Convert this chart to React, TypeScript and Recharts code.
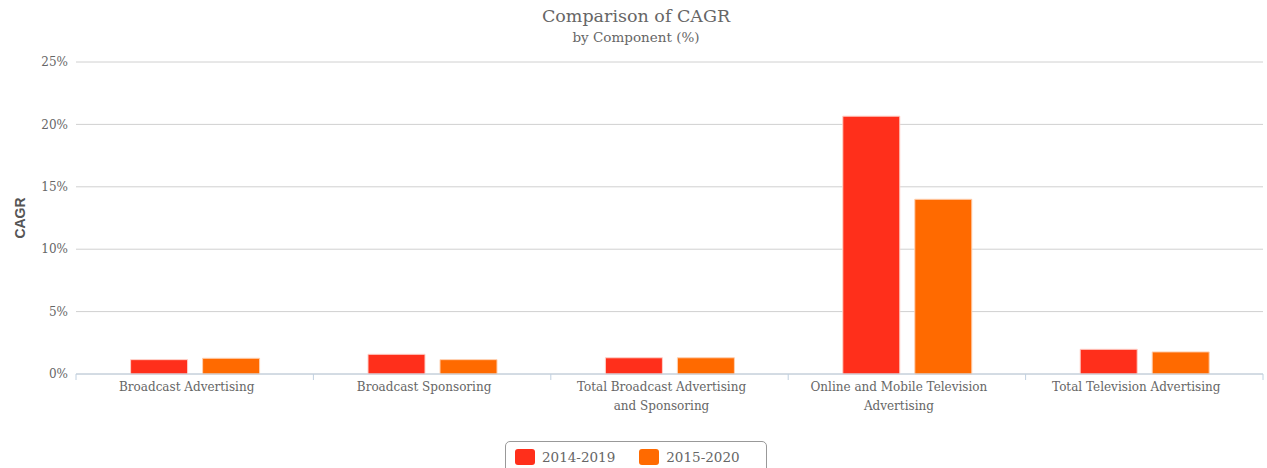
import { BarChart, Bar, XAxis, YAxis, CartesianGrid, Legend, Label } from "recharts"

const categories = [
  "Broadcast Advertising",
  "Broadcast Sponsoring",
  "Total Broadcast Advertising and Sponsoring",
  "Online and Mobile Television Advertising",
  "Total Television Advertising",
]
const tickLines = [
  ["Broadcast Advertising"],
  ["Broadcast Sponsoring"],
  ["Total Broadcast Advertising", "and Sponsoring"],
  ["Online and Mobile Television", "Advertising"],
  ["Total Television Advertising"],
]
const cagr2014 = [1.15, 1.58, 1.3, 20.66, 1.98]
const cagr2015 = [1.26, 1.15, 1.3, 14.0, 1.77]
const yTicks = [0, 5, 10, 15, 20, 25]

const RED = "#ff2f1b"
const ORANGE = "#ff6a00"
const SERIF = "'DejaVu Serif', serif"
const AXIS_BLUE = "#c0d0e0"

const data = categories.map((name, i) => ({
  name,
  a: cagr2014[i],
  b: cagr2015[i],
}))

// category band width, used only to put the tick marks between categories
const BAND = (1267 - 76 - 4) / categories.length

function CategoryTick({ x, y, index }: { x?: number; y?: number; index?: number }) {
  const i = index ?? 0
  const cx = x ?? 0
  const cy = y ?? 0
  const lines = tickLines[i] ?? []
  const axisY = cy - 8
  const tx = cx - 8
  return (
    <g>
      <line x1={cx - BAND / 2} x2={cx - BAND / 2} y1={axisY} y2={axisY + 6} stroke={AXIS_BLUE} />
      {i === categories.length - 1 && (
        <line x1={cx + BAND / 2} x2={cx + BAND / 2} y1={axisY} y2={axisY + 6} stroke={AXIS_BLUE} />
      )}
      <text x={tx} y={cy} textAnchor="middle" fill="#666" fontSize={12} fontFamily={SERIF}>
        {lines.map((l, k) => (
          <tspan key={k} x={tx} dy={k === 0 ? "0.71em" : 19}>
            {l}
          </tspan>
        ))}
      </text>
    </g>
  )
}

function LegendBox() {
  const items = [
    { label: "2014-2019", color: RED },
    { label: "2015-2020", color: ORANGE },
  ]
  return (
    <div
      style={{
        border: "1px solid #999",
        borderRadius: 5,
        height: 34,
        width: 262,
        boxSizing: "border-box",
        display: "flex",
        alignItems: "flex-start",
        paddingTop: 7,
        paddingLeft: 9,
        fontFamily: SERIF,
        fontSize: 13.5,
        color: "#666",
      }}
    >
      {items.map((it) => (
        <div key={it.label} style={{ display: "flex", alignItems: "center", marginRight: 24 }}>
          <span
            style={{
              display: "inline-block",
              width: 20,
              height: 16,
              borderRadius: 3,
              background: it.color,
              marginRight: 7,
            }}
          />
          <span>{it.label}</span>
        </div>
      ))}
    </div>
  )
}

export default function App() {
  return (
    <div style={{ position: "absolute", left: 0, top: 0, width: 1267, height: 468, overflow: "hidden", background: "#fff" }}>
      <div style={{ position: "absolute", left: 0, top: 5, width: 1272, textAlign: "center", fontFamily: SERIF, color: "#666" }}>
        <div style={{ fontSize: 17.5, lineHeight: "22px" }}>Comparison of CAGR</div>
        <div style={{ fontSize: 13.5, lineHeight: "18px", marginTop: 1 }}>by Component (%)</div>
      </div>
      <BarChart
        width={1267}
        height={468}
        data={data}
        margin={{ top: 62, right: 4, bottom: 10, left: 0 }}
        barCategoryGap="23%"
        barGap={15}
      >
        <CartesianGrid vertical={false} stroke="#d0d0d0" />
        <XAxis
          dataKey="name"
          height={50}
          interval={0}
          stroke={AXIS_BLUE}
          tickLine={false}
          tick={<CategoryTick />}
        />
        <YAxis
          width={76}
          domain={[0, 25]}
          ticks={yTicks}
          axisLine={false}
          tickLine={false}
          tickFormatter={(v: number) => `${v}%`}
          tick={{ fill: "#666", fontSize: 12, fontFamily: SERIF }}
        >
          <Label
            value="CAGR"
            angle={-90}
            position="insideLeft"
            offset={20}
            style={{ fill: "#555", fontSize: 14, fontWeight: "bold", fontFamily: "'Liberation Sans', Arial, sans-serif", textAnchor: "middle" }}
          />
        </YAxis>
        <Legend
          content={<LegendBox />}
          wrapperStyle={{ position: "absolute", top: 441, left: 505, bottom: "auto", width: 262 }}
        />
        <Bar dataKey="a" name="2014-2019" fill={RED} stroke="#ffd0c8" strokeWidth={1} isAnimationActive={false} />
        <Bar dataKey="b" name="2015-2020" fill={ORANGE} stroke="#ffd0b0" strokeWidth={1} isAnimationActive={false} />
      </BarChart>
    </div>
  )
}
